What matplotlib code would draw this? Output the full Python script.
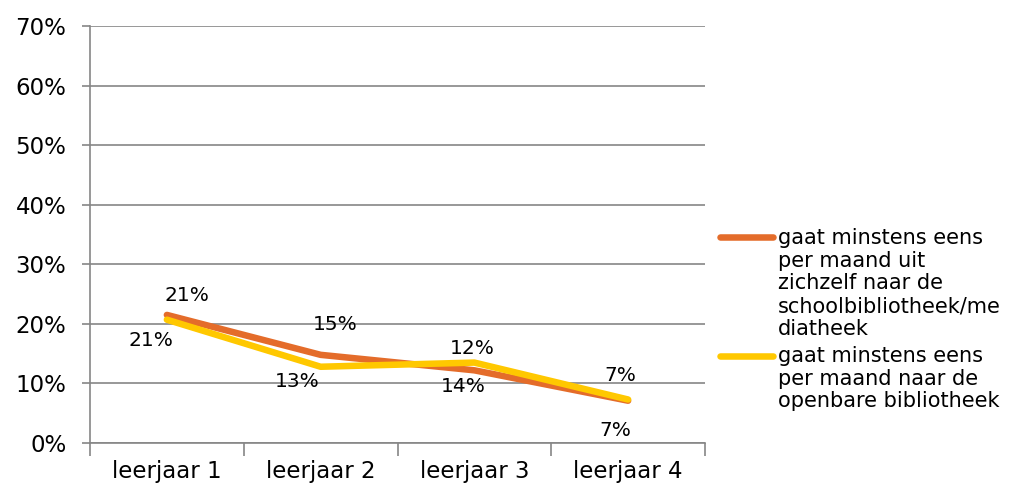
import matplotlib.pyplot as plt
from matplotlib.lines import Line2D
import numpy as np

# data
categories = ['leerjaar 1', 'leerjaar 2', 'leerjaar 3', 'leerjaar 4']
school = [0.215, 0.148, 0.122, 0.071]
openbaar = [0.207, 0.128, 0.135, 0.073]
school_labels = ['21%', '15%', '12%', '7%']
openbaar_labels = ['21%', '13%', '14%', '7%']
series_names = ['gaat minstens eens\nper maand uit\nzichzelf naar de\nschoolbibliotheek/me\ndiatheek',
                'gaat minstens eens\nper maand naar de\nopenbare bibliotheek']

oranje = '#E46C2A'
geel = '#FFC800'
grijs = '#868686'

W, H = 1009, 488
fig = plt.figure(figsize=(W/100, H/100), dpi=100)
ax = fig.add_axes([90/W, 45/H, 615/W, 417/H])

x = np.arange(len(categories))
ax.plot(x, school, color=oranje, lw=4.7, solid_capstyle='round', zorder=3)
ax.plot(x, openbaar, color=geel, lw=4.7, solid_capstyle='round', zorder=4)

# labels (oranje boven, geel onder), offsets in pixels
off_school = [(20, 19), (15, 30), (-2, 22), (-8, 25)]
off_openbaar = [(-16, -21), (-23, -15), (-11, -24), (-13, -31)]
for i in range(len(x)):
    ax.annotate(school_labels[i], (x[i], school[i]), xytext=off_school[i],
                textcoords='offset pixels', ha='center', va='center', fontsize=14.5)
    ax.annotate(openbaar_labels[i], (x[i], openbaar[i]), xytext=off_openbaar[i],
                textcoords='offset pixels', ha='center', va='center', fontsize=14.5)

ax.set_xlim(-0.5, 3.5)
ax.set_ylim(0, 0.7)
yt = np.arange(0, 0.71, 0.1)
ax.set_yticks(yt)
ax.set_yticklabels(['%d%%' % round(v*100) for v in yt], fontsize=16.5)
ax.set_xticks(x)
ax.set_xticklabels(categories, fontsize=16.5)
ax.set_xticks(np.arange(-0.5, 3.6, 1), minor=True)
ax.tick_params(axis='x', which='major', length=0, pad=12)
ax.tick_params(axis='x', which='minor', length=9, color=grijs, width=1.2)
ax.tick_params(axis='y', length=6, color=grijs, width=1.2, pad=11)
ax.yaxis.grid(True, color=grijs, lw=1.2)
ax.set_axisbelow(True)
for s in ['top', 'right']:
    ax.spines[s].set_visible(False)
for s in ['left', 'bottom']:
    ax.spines[s].set_color(grijs)
    ax.spines[s].set_linewidth(1.2)

# legende rechts
for kleur, naam, y_lijn, y_tekst in [(oranje, series_names[0], 237, 228),
                                      (geel, series_names[1], 356, 346)]:
    fig.add_artist(Line2D([720/W, 773/W], [1 - y_lijn/H, 1 - y_lijn/H], color=kleur,
                          lw=4.7, solid_capstyle='round'))
    fig.text(778/W, 1 - y_tekst/H, naam, ha='left', va='top', fontsize=15,
             linespacing=1.17)

fig.savefig('out.png', dpi=100)
